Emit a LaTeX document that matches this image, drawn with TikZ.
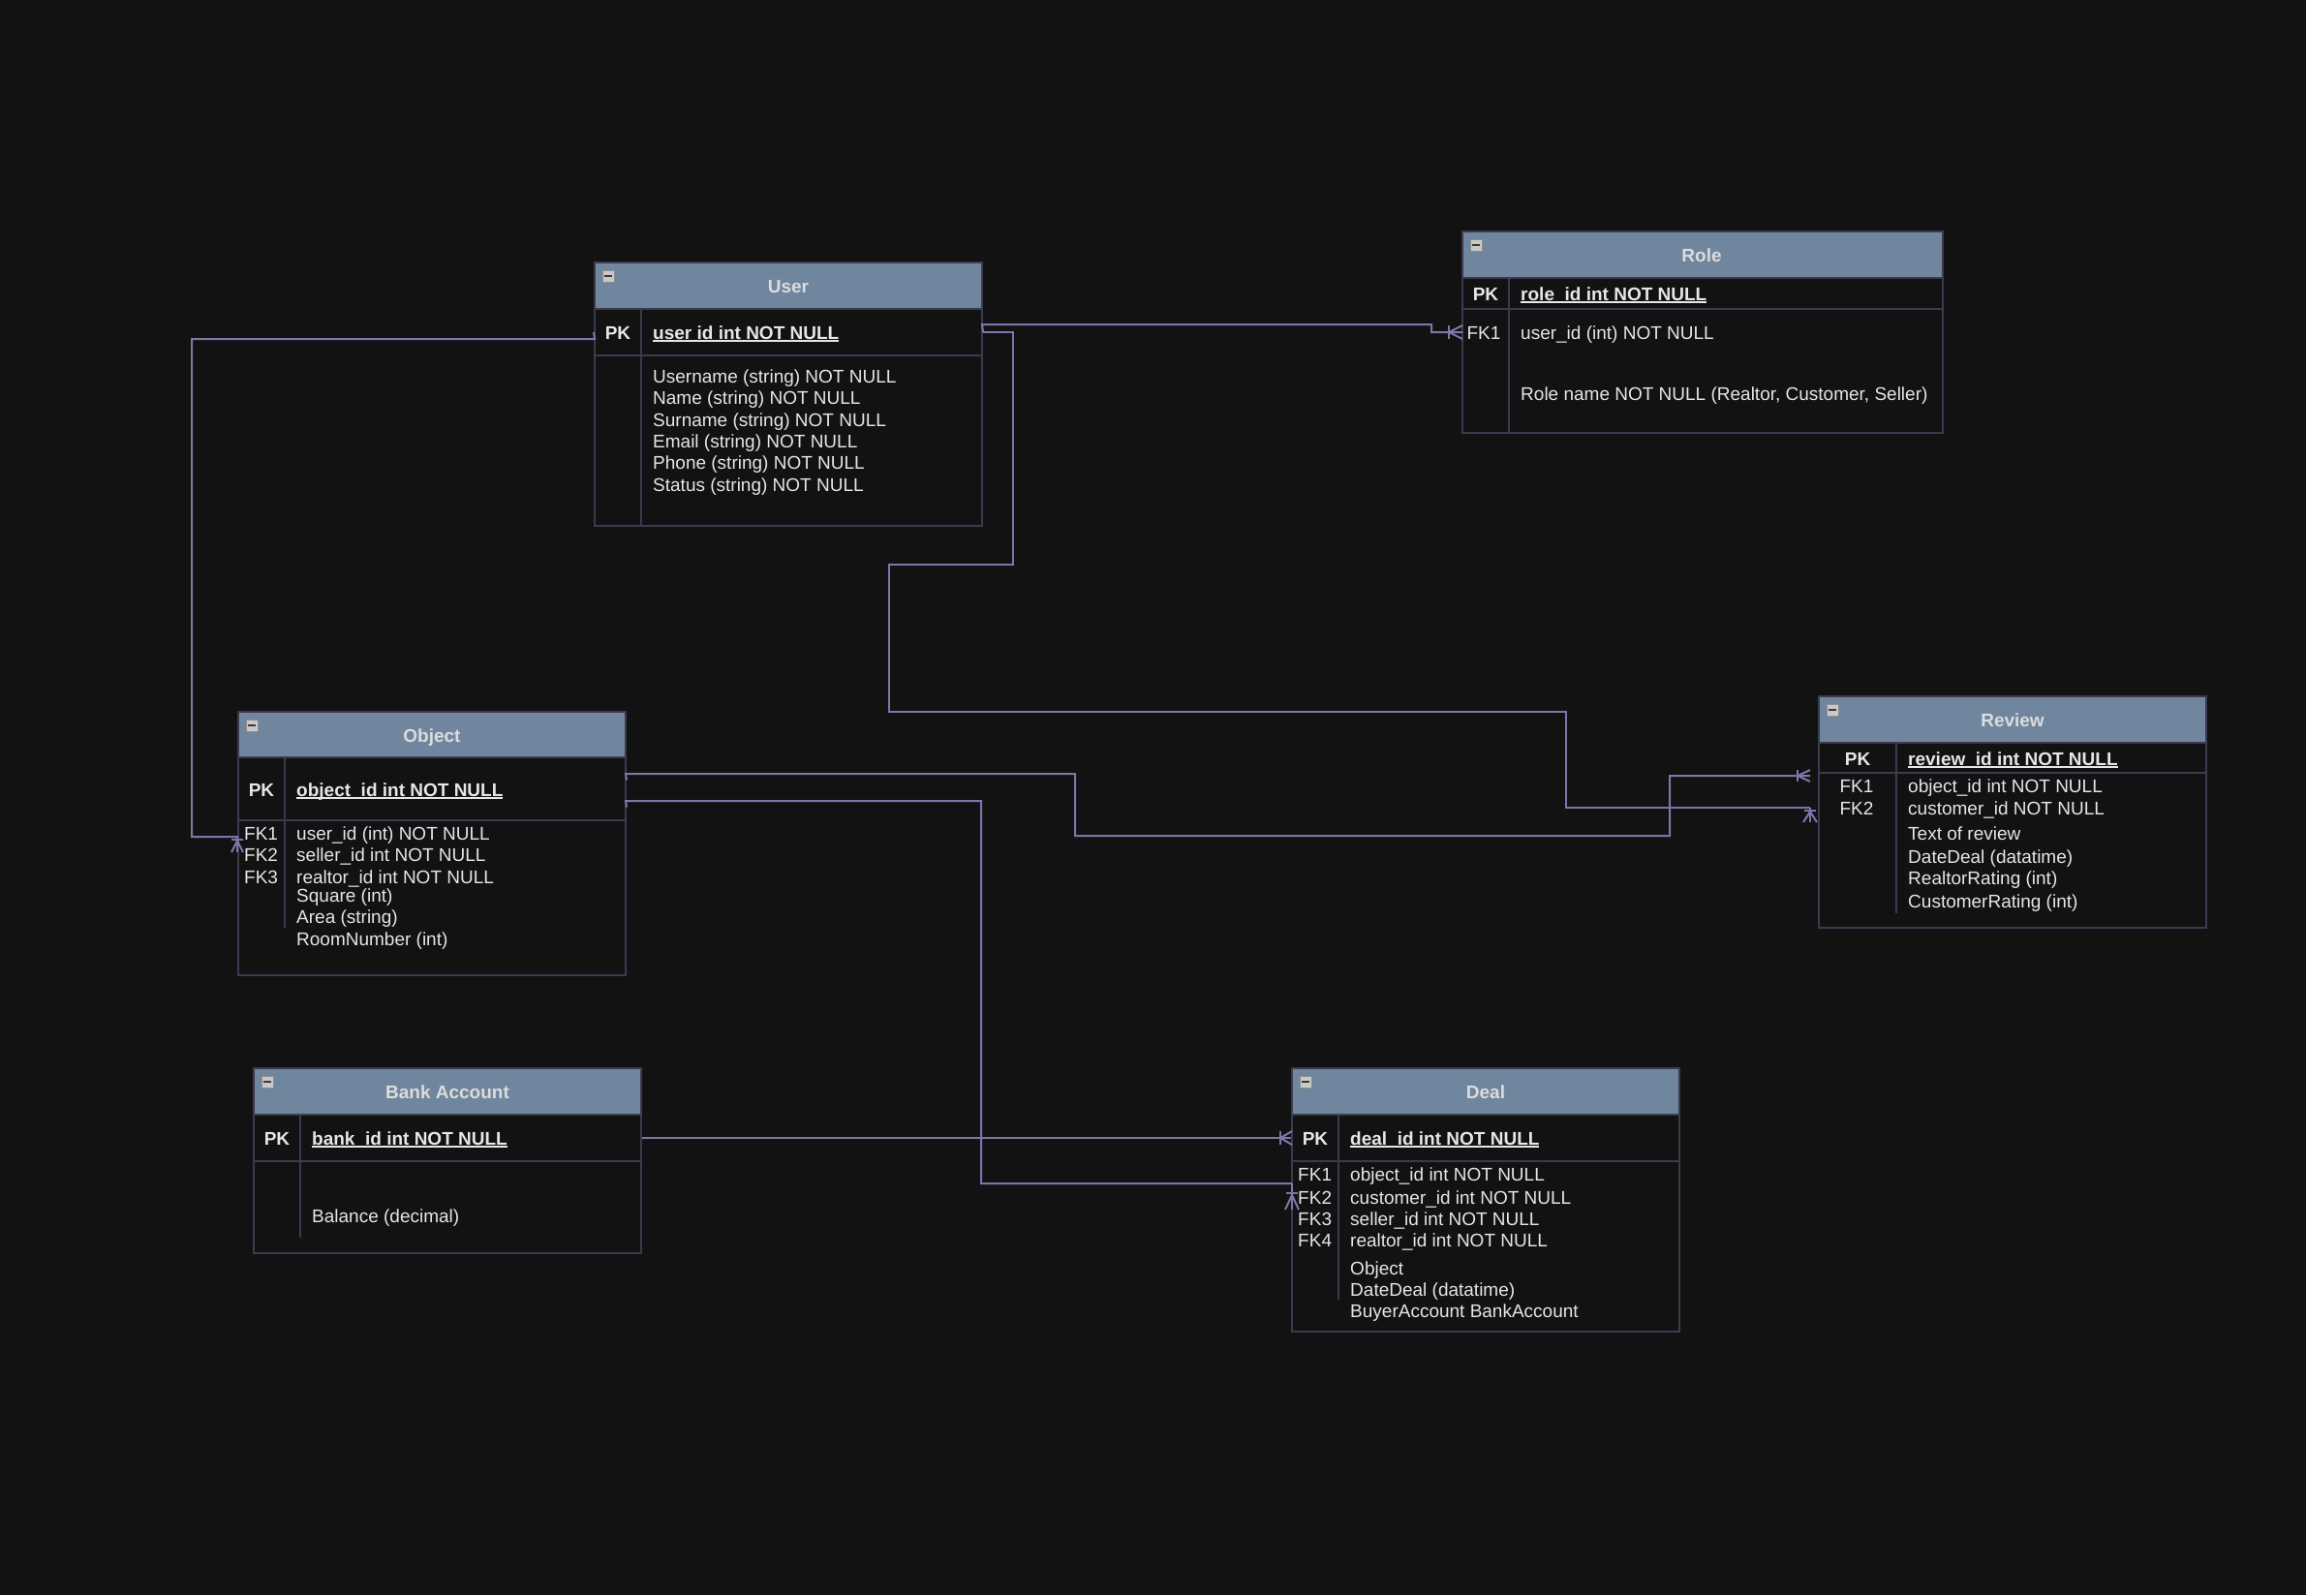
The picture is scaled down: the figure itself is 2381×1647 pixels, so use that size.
\documentclass[tikz,border=0pt]{standalone}
\usepackage{fontspec}
\setmainfont{Liberation Sans}
\usetikzlibrary{calc}
\definecolor{bgc}{HTML}{121212}
\definecolor{bord}{HTML}{3D3A4F}
\definecolor{hdrc}{HTML}{6F869E}
\definecolor{connc}{HTML}{7E76AA}
\definecolor{txt}{HTML}{E6E6E6}
\definecolor{hdrtxt}{HTML}{DCDCDC}
\definecolor{mbf}{HTML}{C9C9C9}
\definecolor{mbd}{HTML}{8E8E8E}
\definecolor{mbar}{HTML}{3A3A3A}
\newcommand\myul[1]{\setbox0\hbox{#1}\rlap{\color{txt}\rule[-3pt]{\wd0}{1.8pt}}\box0}
\newcommand\ertab[9]{%
 \node[tbl, minimum width={(#4-#2)*1pt}, minimum height={(#5-#3)*1pt}] (#1) at ({(#2+#4)/2},{(#3+#5)/2}) {};
 \node[hdr, minimum width={(#4-#2)*1pt}, minimum height={(#6-#3)*1pt}] (#1hd) at ({(#2+#4)/2},{(#3+#6)/2}) {};
 \node[pkrow, minimum width={(#4-#2)*1pt}, minimum height={(#7-#6)*1pt}] (#1pk) at ({(#2+#4)/2},{(#6+#7)/2}) {};
 \draw[divl] (#8,#6) -- (#8,#9);
 \node[minbox] (#1mb) at ({#2+14},{#3+14}) {\color{mbar}\rule{8pt}{2.5pt}};
}
\begin{document}
\begin{tikzpicture}[x=1pt,y=-1pt,
  tbl/.style={draw=bord, fill=bgc, line width=2pt, inner sep=0, rectangle},
  hdr/.style={draw=bord, fill=hdrc, line width=2pt, inner sep=0, rectangle},
  pkrow/.style={draw=bord, line width=2pt, inner sep=0, rectangle},
  divl/.style={draw=bord, line width=2pt},
  fld/.style={anchor=base west, inner sep=0, text=txt, font=\fontsize{19}{22}\selectfont},
  fldc/.style={fld, anchor=base},
  pkl/.style={fldc, font=\fontsize{19}{22}\selectfont\bfseries},
  pkv/.style={fld, font=\fontsize{19}{22}\selectfont\bfseries},
  ttl/.style={anchor=base, inner sep=0, text=hdrtxt, font=\fontsize{19}{22}\selectfont\bfseries},
  minbox/.style={fill=mbf, draw=mbd, line width=1pt, minimum size=12pt, inner sep=0},
  conn/.style={draw=connc, line width=2pt},
]
\fill[bgc] (0,0) rectangle (2381,1647);
\useasboundingbox (0,0) rectangle (2381,1647);

% tables
\ertab{user}{614}{271}{1014}{543}{319}{367}{662}{543}
\ertab{role}{1510}{239}{2006}{447}{287}{319}{1558}{447}
\ertab{obj}{246}{735}{646}{1007}{782}{847}{294}{958}
\ertab{rev}{1878}{719}{2278}{958}{767}{798}{1958}{943}
\ertab{bank}{262}{1103}{662}{1294}{1151}{1199}{310}{1278}
\ertab{deal}{1334}{1103}{1734}{1375}{1151}{1199}{1382}{1342}

% titles
\node[ttl] (usert) at (814,302) {User};
\node[ttl] (rolet) at (1757,270) {Role};
\node[ttl] (objt) at (446,766) {Object};
\node[ttl] (revt) at (2078,750) {Review};
\node[ttl] (bankt) at (462,1134) {Bank Account};
\node[ttl] (dealt) at (1534,1134) {Deal};

% primary keys
\node[pkl] (userpkl) at (638,350) {PK};
\node[pkv] (userpkv) at (674,350) {\myul{user id int NOT NULL}};
\node[pkl] (rolepkl) at (1534,310) {PK};
\node[pkv] (rolepkv) at (1570,310) {\myul{role\_id int NOT NULL}};
\node[pkl] (objpkl) at (270,822) {PK};
\node[pkv] (objpkv) at (306,822) {\myul{object\_id int NOT NULL}};
\node[pkl] (revpkl) at (1918,790) {PK};
\node[pkv] (revpkv) at (1970,790) {\myul{review\_id int NOT NULL}};
\node[pkl] (bankpkl) at (286,1182) {PK};
\node[pkv] (bankpkv) at (322,1182) {\myul{bank\_id int NOT NULL}};
\node[pkl] (dealpkl) at (1358,1182) {PK};
\node[pkv] (dealpkv) at (1394,1182) {\myul{deal\_id int NOT NULL}};

% user fields
\foreach \yy/\tx [count=\i] in {395/{Username (string) NOT NULL},417/{Name (string) NOT NULL},440/{Surname (string) NOT NULL},462/{Email (string) NOT NULL},484/{Phone (string) NOT NULL},507/{Status (string) NOT NULL}}
  \node[fld] (uf\i) at (674,\yy) {\tx};

% role fields
\node[fldc] (rolefk1) at (1532,350) {FK1};
\node[fld] (rolef1) at (1570,350) {user\_id (int) NOT NULL};
\node[fld] (rolef2) at (1570,413) {Role name NOT NULL (Realtor, Customer, Seller)};

% object fields
\foreach \yy/\tx [count=\i] in {867/FK1,889/FK2,912/FK3}
  \node[fld] (ofk\i) at (252,\yy) {\tx};
\foreach \yy/\tx [count=\i] in {867/{user\_id (int) NOT NULL},889/{seller\_id int NOT NULL},912/{realtor\_id int NOT NULL},931/{Square (int)},953/{Area (string)},976/{RoomNumber (int)}}
  \node[fld] (of\i) at (306,\yy) {\tx};

% review fields
\foreach \yy/\tx [count=\i] in {818/FK1,841/FK2}
  \node[fldc] (rfk\i) at (1917,\yy) {\tx};
\foreach \yy/\tx [count=\i] in {818/{object\_id int NOT NULL},841/{customer\_id NOT NULL},867/{Text of review},891/{DateDeal (datatime)},913/{RealtorRating (int)},937/{CustomerRating (int)}}
  \node[fld] (rf\i) at (1970,\yy) {\tx};

% bank fields
\node[fld] (bf1) at (322,1262) {Balance (decimal)};

% deal fields
\foreach \yy/\tx [count=\i] in {1219/FK1,1243/FK2,1265/FK3,1287/FK4}
  \node[fld] (dfk\i) at (1340,\yy) {\tx};
\foreach \yy/\tx [count=\i] in {1219/{object\_id int NOT NULL},1243/{customer\_id int NOT NULL},1265/{seller\_id int NOT NULL},1287/{realtor\_id int NOT NULL},1316/{Object},1338/{DateDeal (datatime)},1360/{BuyerAccount BankAccount}}
  \node[fld] (df\i) at (1394,\yy) {\tx};

% connector end points
\coordinate (roleIn) at (1510,343);
\coordinate (revIn1) at (1869,801);
\coordinate (revIn2) at (1869,834);
\coordinate (objIn) at (246,864);
\coordinate (dealIn) at (1334,1222);

% User -> Role
\draw[conn] (userpk.east) -- (1014,335) -- (1478,335) -- (1478,343) -- (roleIn);
\draw[conn] (1496,336) -- (1496,350);
\draw[conn] (1510,336) -- (1496,343) -- (1510,350);

% User -> Review (customer)
\draw[conn] (userpk.east) -- (1046,343) -- (1046,583) -- (918,583) -- (918,735) -- (1617,735) -- (1617,834) -- (revIn2);
\draw[conn] (1869,834) -- (1869,849);
\draw[conn] (1863,837) -- (1875,837);
\draw[conn] (1862,849) -- (1869,838) -- (1876,849);

% User -> Object
\draw[conn] (userpk.west) -- (614,350) -- (198,350) -- (198,864) -- (objIn);
\draw[conn] (245,864) -- (245,880);
\draw[conn] (239,867) -- (251,867);
\draw[conn] (239,880) -- (245,868) -- (251,880);

% Object -> Review
\draw[conn] ($(objpk.east)+(0,-9)$) -- (646,799) -- (1110,799) -- (1110,863) -- (1724,863) -- (1724,801) -- (revIn1);
\draw[conn] (1856,795) -- (1856,807);
\draw[conn] (1869,795) -- (1856,801) -- (1869,807);

% Object -> Deal
\draw[conn] ($(objpk.east)+(0,19)$) -- (646,827) -- (1013,827) -- (1013,1222) -- (dealIn);
\draw[conn] (1334,1222) -- (1334,1249);
\draw[conn] (1328,1232) -- (1340,1232);
\draw[conn] (1327,1249) -- (1334,1234) -- (1341,1249);

% Bank -> Deal
\draw[conn] (bankpk.east) -- (dealpk.west);
\draw[conn] (1322,1168) -- (1322,1182);
\draw[conn] (1334,1168) -- (1322,1175) -- (1334,1182);
\end{tikzpicture}
\end{document}
